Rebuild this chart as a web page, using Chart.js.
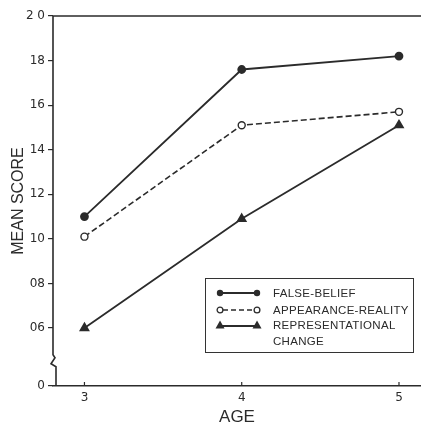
<!DOCTYPE html>
<html lang="en">
<head>
    <meta charset="UTF-8">
    <title>Mean score by age</title>
    <style>
        body {
            margin: 0;
            background: white;
            font-family: "DejaVu Sans", Arial, sans-serif;
        }

        .wrap {
            position: relative;
            width: 421px;
            height: 428px;
        }

        .legend {
            position: absolute;
            left: 205px;
            top: 278px;
            width: 207px;
            height: 73px;
            border: 1.5px solid #333;
            font-family: "Liberation Sans", Arial, sans-serif;
            font-size: 11.5px;
            letter-spacing: 0.3px;
            color: #2b2b2b;
        }

        .legend .row {
            position: absolute;
            left: 10px;
            display: flex;
            align-items: flex-start;
        }

        .legend svg {
            margin-right: 10px;
            flex: none;
        }

        .legend span {
            line-height: 16px;
            width: 140px;
        }
    </style>
</head>
<body>
    <div class="wrap">
        <canvas id="lineChart"></canvas>
        <div class="legend" id="legend"></div>
    </div>

    <script src="https://cdn.jsdelivr.net/npm/chart.js"></script>
    <script>
        // valores
        const ages = [3, 4, 5];
        const falseBelief = [1.10, 1.76, 1.82];
        const appearanceReality = [1.01, 1.51, 1.57];
        const representationalChange = [0.60, 1.09, 1.51];
        const seriesNames = ['FALSE-BELIEF', 'APPEARANCE-REALITY', 'REPRESENTATIONAL CHANGE'];
        const yTickValues = [0.34, 0.6, 0.8, 1.0, 1.2, 1.4, 1.6, 1.8, 2.0];
        const yTickLabels = ['0', '06', '08', '10', '12', '14', '16', '18', '2 0'];
        const xTickValues = [3, 4, 5];

        const ink = '#2b2b2b';
        const toPoints = vals => vals.map((v, i) => ({ x: ages[i], y: v }));

        // eje y con corte, linea superior y marcas del eje x
        const framePlugin = {
            id: 'frame',
            afterDraw(chart) {
                const { ctx, chartArea, scales } = chart;
                const left = chartArea.left;
                const yBreak = scales.y.getPixelForValue(0.48);
                ctx.save();
                ctx.strokeStyle = ink;
                ctx.lineWidth = 1.6;
                ctx.beginPath();
                ctx.moveTo(chartArea.right, chartArea.top);
                ctx.lineTo(left, chartArea.top);
                ctx.lineTo(left, yBreak);
                ctx.lineTo(left + 2, yBreak + 3);
                ctx.lineTo(left - 2, yBreak + 9);
                ctx.lineTo(left + 3, yBreak + 12);
                ctx.lineTo(left + 3, chartArea.bottom);
                ctx.stroke();
                ctx.lineWidth = 1.2;
                xTickValues.forEach(v => {
                    const px = scales.x.getPixelForValue(v);
                    ctx.beginPath();
                    ctx.moveTo(px, chartArea.bottom);
                    ctx.lineTo(px, chartArea.bottom - 4);
                    ctx.stroke();
                });
                ctx.restore();
            }
        };

        const ctx = document.getElementById('lineChart').getContext('2d');
        new Chart(ctx, {
            type: 'line',
            data: {
                datasets: [{
                    label: seriesNames[0],
                    data: toPoints(falseBelief),
                    borderColor: ink,
                    borderWidth: 1.8,
                    pointStyle: 'circle',
                    pointRadius: 3.5,
                    pointBackgroundColor: ink,
                    pointBorderColor: ink
                }, {
                    label: seriesNames[1],
                    data: toPoints(appearanceReality),
                    borderColor: ink,
                    borderWidth: 1.6,
                    borderDash: [6, 3],
                    pointStyle: 'circle',
                    pointRadius: 3.5,
                    pointBorderWidth: 1.4,
                    pointBackgroundColor: 'white',
                    pointBorderColor: ink
                }, {
                    label: seriesNames[2],
                    data: toPoints(representationalChange),
                    borderColor: ink,
                    borderWidth: 1.8,
                    pointStyle: 'triangle',
                    pointRadius: 4.5,
                    pointBackgroundColor: ink,
                    pointBorderColor: ink
                }]
            },
            options: {
                responsive: true,
                maintainAspectRatio: false,
                animation: false,
                layout: { autoPadding: false, padding: { top: 16, right: 0, left: 0, bottom: 0 } },
                plugins: {
                    legend: { display: false },
                    tooltip: { enabled: false }
                },
                scales: {
                    x: {
                        type: 'linear',
                        min: 2.8,
                        max: 5.14,
                        afterBuildTicks: s => { s.ticks = xTickValues.map(v => ({ value: v })); },
                        afterFit: s => { s.height = 42; },
                        grid: { drawOnChartArea: false, drawTicks: false },
                        border: { display: true, color: ink, width: 1.6 },
                        ticks: {
                            color: ink,
                            padding: 5,
                            font: { family: 'DejaVu Sans', size: 12 }
                        },
                        title: {
                            display: true,
                            text: 'AGE',
                            color: ink,
                            padding: { top: 10, bottom: 0 },
                            font: { family: 'Liberation Sans', size: 17 }
                        }
                    },
                    y: {
                        type: 'linear',
                        min: 0.34,
                        max: 2.0,
                        afterBuildTicks: s => { s.ticks = yTickValues.map(v => ({ value: v })); },
                        afterFit: s => { s.width = 53; },
                        grid: { drawOnChartArea: false, drawTicks: true, tickLength: 5, color: ink, lineWidth: 1.2 },
                        border: { display: false },
                        ticks: {
                            color: ink,
                            padding: 3,
                            font: { family: 'DejaVu Sans', size: 12 },
                            callback: (value, index) => yTickLabels[index]
                        },
                        title: {
                            display: true,
                            text: 'MEAN SCORE',
                            color: ink,
                            padding: { top: 9, bottom: 0 },
                            font: { family: 'Liberation Sans', size: 16 }
                        }
                    }
                }
            },
            plugins: [framePlugin]
        });

        // leyenda con recuadro, como en el original
        const legend = document.getElementById('legend');
        const rowTops = [6, 23, 38];
        const samples = [
            '<line x1="4" y1="5" x2="41" y2="5" stroke="' + ink + '" stroke-width="1.8"/><circle cx="4" cy="5" r="3.2" fill="' + ink + '"/><circle cx="41" cy="5" r="3.2" fill="' + ink + '"/>',
            '<line x1="7" y1="5" x2="38" y2="5" stroke="' + ink + '" stroke-width="1.6" stroke-dasharray="5,3"/><circle cx="4" cy="5" r="2.9" fill="white" stroke="' + ink + '" stroke-width="1.3"/><circle cx="41" cy="5" r="2.9" fill="white" stroke="' + ink + '" stroke-width="1.3"/>',
            '<line x1="4" y1="6" x2="41" y2="6" stroke="' + ink + '" stroke-width="1.8"/><polygon points="4,0.5 8.5,8.5 -0.5,8.5" fill="' + ink + '"/><polygon points="41,0.5 45.5,8.5 36.5,8.5" fill="' + ink + '"/>'
        ];
        seriesNames.forEach((name, i) => {
            const row = document.createElement('div');
            row.className = 'row';
            row.style.top = rowTops[i] + 'px';
            row.innerHTML = '<svg width="47" height="10" style="margin-top:3px;overflow:visible">' + samples[i] + '</svg><span>' + name + '</span>';
            legend.appendChild(row);
        });
    </script>
</body>
</html>
